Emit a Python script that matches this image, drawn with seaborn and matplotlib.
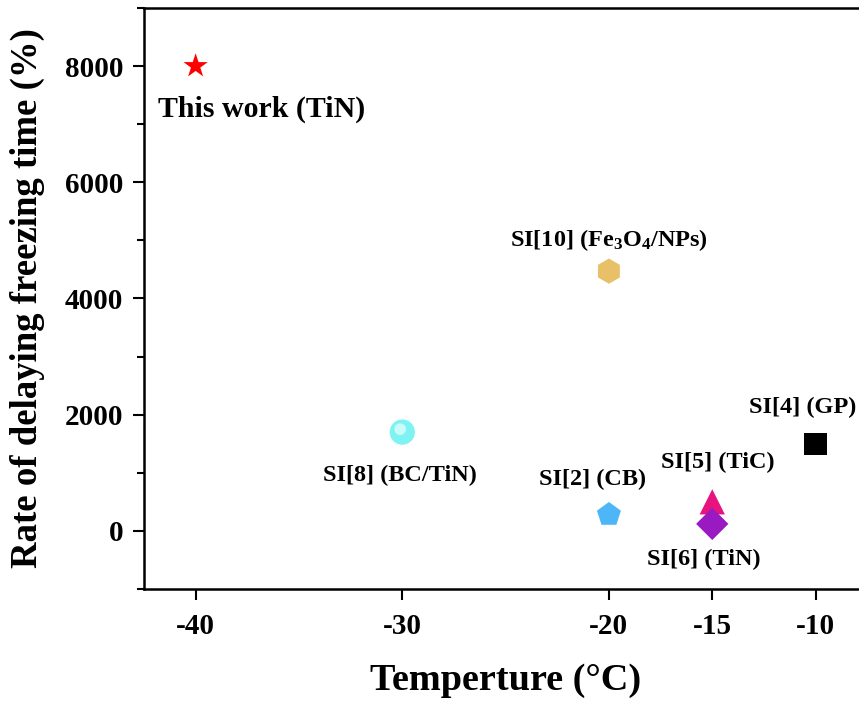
import matplotlib
matplotlib.use("Agg")
import matplotlib.pyplot as plt
from matplotlib.ticker import MultipleLocator
import seaborn as sns
import pandas as pd

sns.set_theme(style="white")
plt.rcParams["font.family"] = ["Liberation Serif", "DejaVu Serif"]
plt.rcParams["font.weight"] = "bold"
plt.rcParams["axes.unicode_minus"] = False
plt.rcParams["text.color"] = "black"
plt.rcParams["axes.labelcolor"] = "black"
plt.rcParams["xtick.color"] = "black"
plt.rcParams["ytick.color"] = "black"
plt.rcParams["mathtext.fontset"] = "custom"
plt.rcParams["mathtext.rm"] = "Liberation Serif:bold"
plt.rcParams["mathtext.it"] = "Liberation Serif:bold"
plt.rcParams["mathtext.bf"] = "Liberation Serif:bold"

# Comparison data: temperature (°C) vs. rate of delaying freezing time (%)
labels = ["This work (TiN)", "SI[10] (Fe$_3$O$_4$/NPs)", "SI[8] (BC/TiN)",
          "SI[2] (CB)", "SI[5] (TiC)", "SI[6] (TiN)", "SI[4] (GP)"]
temperature = [-40, -20, -30, -20, -15, -15, -10]
delay_rate = [8000, 4470, 1700, 280, 500, 120, 1500]

markers = ["*", "h", "o", "p", "^", "D", "s"]
colors = ["#FF0000", "#E8C068", "#7EF3F3", "#4DB6F7", "#E6147F", "#9A1AC2", "#000000"]
sizes = [340, 330, 330, 330, 330, 270, 260]

# label text placement (data coords) and font size
label_x = [-36.8, -20, -30.1, -20.8, -14.75, -15.4, -10.6]
label_y = [7250, 5000, 950, 890, 1180, -490, 2125]
label_fs = [21.5, 17.5, 17.5, 17.5, 17.5, 17.5, 17.5]

df = pd.DataFrame({"label": labels, "T": temperature, "rate": delay_rate})

fig = plt.figure(figsize=(8.59, 7.04), dpi=100)
ax = fig.add_axes([0.1676, 0.1634, 0.842, 0.8253])

sns.scatterplot(data=df, x="T", y="rate", hue="label", style="label",
                size="label", sizes=dict(zip(labels, sizes)),
                palette=dict(zip(labels, colors)),
                markers=dict(zip(labels, markers)),
                edgecolor="none", linewidth=0, legend=False, ax=ax, zorder=3)

# glossy highlight on the sphere marker
ax.scatter([temperature[2] - 0.1], [delay_rate[2] + 50], s=70, color="white",
           alpha=0.6, edgecolor="none", zorder=4)

for lx, ly, txt, fs in zip(label_x, label_y, labels, label_fs):
    ax.text(lx, ly, txt, ha="center", va="center", fontsize=fs,
            fontweight="bold", color="black")

ax.set_xlim(-42.5, -7.5)
ax.set_ylim(-1000, 9000)
ax.set_xticks([-40, -30, -20, -15, -10])
ax.yaxis.set_major_locator(MultipleLocator(2000))
ax.yaxis.set_minor_locator(MultipleLocator(1000))

ax.set_xlabel("Temperture (°C)", fontsize=27.5, fontweight="bold", labelpad=17)
ax.set_ylabel("Rate of delaying freezing time (%)", fontsize=26.5,
              fontweight="bold", labelpad=14)

ax.tick_params(axis="both", which="major", direction="out", length=8,
               width=1.5, labelsize=21, color="black", pad=9,
               bottom=True, left=True)
ax.tick_params(axis="y", which="major", pad=7)
ax.tick_params(axis="y", which="minor", direction="out", length=5,
               width=1.5, left=True)
for lbl in ax.get_xticklabels() + ax.get_yticklabels():
    lbl.set_fontweight("bold")

for side in ["left", "bottom", "top", "right"]:
    ax.spines[side].set_visible(True)
    ax.spines[side].set_color("black")
    ax.spines[side].set_linewidth(1.8)

fig.savefig("out.png", dpi=100)
